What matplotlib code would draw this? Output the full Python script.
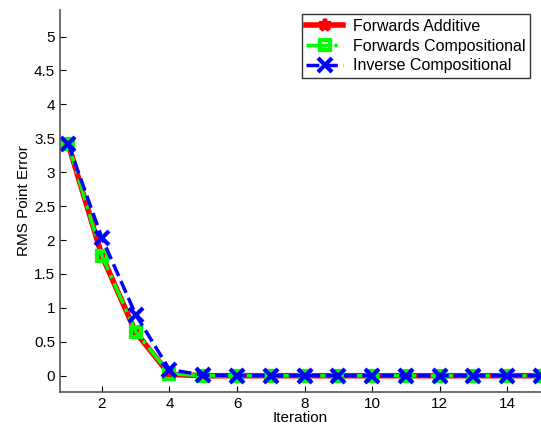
import matplotlib
matplotlib.use("Agg")
import matplotlib.pyplot as plt

iterations = list(range(1, 16))
forwards_additive = [3.42, 1.77, 0.64, 0.02, 0.0, 0.0, 0.0, 0.0, 0.0, 0.0, 0.0, 0.0, 0.0, 0.0, 0.0]
forwards_compositional = [3.42, 1.77, 0.65, 0.03, 0.0, 0.0, 0.0, 0.0, 0.0, 0.0, 0.0, 0.0, 0.0, 0.0, 0.0]
inverse_compositional = [3.42, 2.03, 0.90, 0.09, 0.01, 0.0, 0.0, 0.0, 0.0, 0.0, 0.0, 0.0, 0.0, 0.0, 0.0]
xticks = [2, 4, 6, 8, 10, 12, 14]
yticks = [0, 0.5, 1, 1.5, 2, 2.5, 3, 3.5, 4, 4.5, 5]
ytick_labels = ["0", "0.5", "1", "1.5", "2", "2.5", "3", "3.5", "4", "4.5", "5"]

plt.rcParams['font.family'] = ['Liberation Sans', 'DejaVu Sans']
fig = plt.figure(figsize=(5.41, 4.32), dpi=100)
ax = fig.add_axes([0.111, 0.0926, 0.889, 0.884])

ax.plot(iterations, forwards_additive, color=(1, 0, 0), linestyle='-', linewidth=4,
        marker='*', markersize=9, markeredgewidth=3, label='Forwards Additive', clip_on=False)
ax.plot(iterations, forwards_compositional, color=(0, 1, 0), linestyle='-.', linewidth=2.5,
        marker='s', markersize=7, markerfacecolor='none', markeredgewidth=3,
        label='Forwards Compositional', clip_on=False)
ax.plot(iterations, inverse_compositional, color=(0, 0, 1), linestyle='--', linewidth=2.5,
        marker='x', markersize=10, markeredgewidth=3, label='Inverse Compositional', clip_on=False)

ax.set_xlim(0.76, 15)
ax.set_ylim(-0.24, 5.39)
ax.set_xticks(xticks)
ax.set_yticks(yticks)
ax.set_yticklabels(ytick_labels)
ax.tick_params(direction='in', labelsize=11, length=4, width=0.8)
ax.spines['top'].set_visible(False)
ax.spines['right'].set_visible(False)
for s in ('left', 'bottom'):
    ax.spines[s].set_color('#555555')
    ax.spines[s].set_linewidth(1.2)
ax.set_xlabel('Iteration', fontsize=11, labelpad=0)
ax.set_ylabel('RMS Point Error', fontsize=11, labelpad=2)

leg = ax.legend(loc='upper right', bbox_to_anchor=(0.977, 0.99), fontsize=11.5,
                frameon=True, fancybox=False, edgecolor='black', handlelength=2.3,
                borderpad=0.3, labelspacing=0.3, handletextpad=0.6, borderaxespad=0)
leg.get_frame().set_linewidth(1.0)

fig.savefig('out.png', dpi=100)
